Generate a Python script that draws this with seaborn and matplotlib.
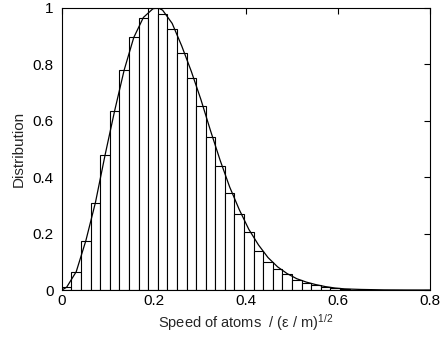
import pandas as pd
import matplotlib
matplotlib.use('Agg')
import matplotlib.pyplot as plt
import seaborn as sns

# --- data ---
bin_width = 1 / 48
bar_heights = [0.01, 0.065, 0.175, 0.31, 0.478, 0.635, 0.78, 0.895, 0.964, 1.0,
               0.98, 0.925, 0.84, 0.753, 0.652, 0.541, 0.439, 0.344, 0.27, 0.205,
               0.14, 0.10, 0.075, 0.055, 0.037, 0.026, 0.017, 0.010, 0.006, 0.003]

curve_x = [0.0, 0.0104, 0.0312, 0.0521, 0.0729, 0.0938, 0.1146, 0.1354, 0.1562,
           0.1771, 0.1979, 0.209, 0.2188, 0.2396, 0.2604, 0.2812, 0.3021, 0.3229,
           0.3438, 0.3646, 0.3854, 0.4062, 0.4271, 0.4479, 0.4688, 0.4896, 0.5104,
           0.5312, 0.5521, 0.5729, 0.5938, 0.6146, 0.65, 0.70, 0.75, 0.80]
curve_y = [0.0, 0.01, 0.065, 0.175, 0.31, 0.478, 0.635, 0.78, 0.895,
           0.966, 0.997, 1.0, 0.992, 0.945, 0.865, 0.775, 0.675, 0.565,
           0.46, 0.365, 0.285, 0.215, 0.16, 0.115, 0.082, 0.058, 0.04,
           0.028, 0.019, 0.012, 0.007, 0.004, 0.002, 0.0005, 0.0001, 0.0]

x_ticks = [0, 0.2, 0.4, 0.6, 0.8]
y_ticks = [0, 0.2, 0.4, 0.6, 0.8, 1]

sns.set_style('white')
plt.rcParams['font.family'] = ['Liberation Sans', 'DejaVu Sans']
plt.rcParams['mathtext.default'] = 'regular'

fig = plt.figure(figsize=(4.42, 3.42), dpi=100)
ax = fig.add_axes([0.140, 0.152, 0.833, 0.825])

n_bins = len(bar_heights)
hist_df = pd.DataFrame({'speed': [(i + 0.5) * bin_width for i in range(n_bins)],
                        'height': bar_heights})
sns.histplot(data=hist_df, x='speed', weights='height', binwidth=bin_width,
             binrange=(0, n_bins * bin_width), ax=ax,
             color='white', edgecolor='black', linewidth=0.8, alpha=1)
sns.lineplot(x=curve_x, y=curve_y, ax=ax, color='black', linewidth=0.9)

ax.set_xlim(0, 0.8)
ax.set_ylim(0, 1)
ax.set_xticks(x_ticks)
ax.set_xticklabels(['0', '0.2', '0.4', '0.6', '0.8'])
ax.set_yticks(y_ticks)
ax.set_yticklabels(['0', '0.2', '0.4', '0.6', '0.8', '1'])
ax.tick_params(direction='in', length=4, width=0.8, top=True, right=True,
               labelsize=11, colors='black')
ax.tick_params(axis='x', pad=3)
ax.tick_params(axis='y', pad=6)
for s in ax.spines.values():
    s.set_color('black')
    s.set_linewidth(0.8)
ax.set_xlabel('Speed of atoms  / (ε / m)$^{1/2}$', fontsize=10.5, labelpad=3)
ax.set_ylabel('Distribution', fontsize=11, labelpad=5)

fig.savefig('out.png', dpi=100)
